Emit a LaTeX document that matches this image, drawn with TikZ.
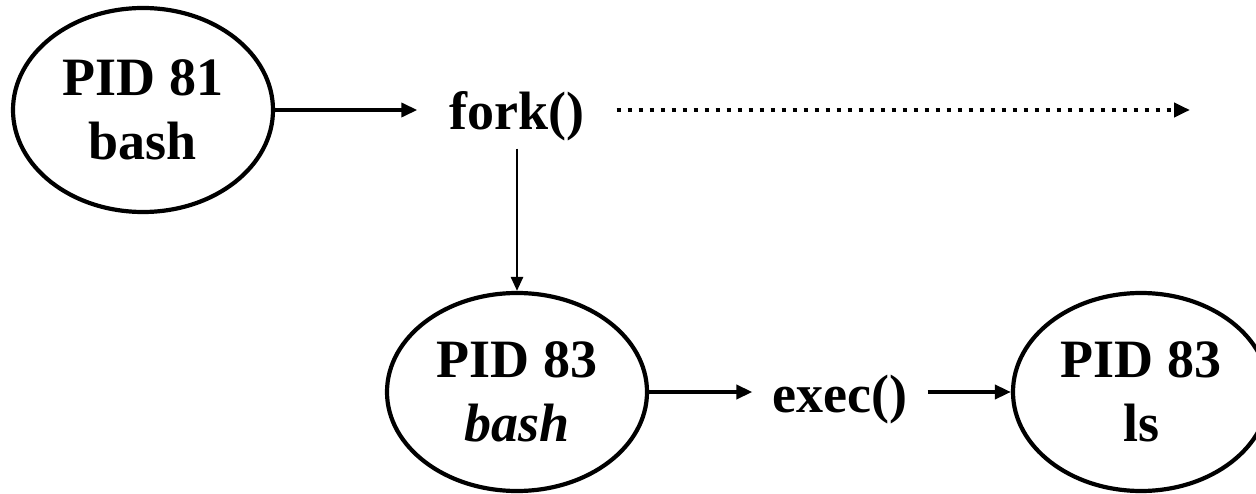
\documentclass[tikz,border=0pt]{standalone}
\usepackage{fontspec}
\setmainfont{Liberation Serif}
\usetikzlibrary{arrows.meta,shapes.geometric}
\begin{document}
\begin{tikzpicture}[x=1pt,y=-1pt,
  proc/.style={draw,ellipse,line width=4.2pt,inner sep=0pt,align=center,
    font=\fontsize{54}{64}\selectfont\bfseries},
  lbl/.style={anchor=base,inner ysep=7pt,font=\fontsize{54}{64}\selectfont\bfseries},
  conn/.style={line width=3.6pt,-{Triangle[length=16pt,width=14pt]}},
  thin conn/.style={line width=2.6pt,-{Triangle[length=14pt,width=12pt]}},
  dots/.style={line width=4.2pt,dash pattern=on 4pt off 7pt,-{Triangle[length=16pt,width=14pt]}}]
\useasboundingbox (0,0) rectangle (1256,494);
\node[proc,minimum width=260pt,minimum height=204pt] (e1) at (143,110) {PID 81\\bash};
\node[proc,minimum width=260pt,minimum height=198pt] (e2) at (517,392) {PID 83\\\textit{bash}};
\node[proc,minimum width=256pt,minimum height=198pt] (e3) at (1141,392) {PID 83\\ls};
\node[lbl,inner xsep=32pt] (fork) at (517,130) {fork()};
\node[lbl,inner xsep=20pt] (exec) at (840,412) {exec()};
\coordinate (far) at (1190,110);
\draw[conn] (e1.east) -- (e1.east -| fork.west);
\draw[dots] (e1.east -| fork.east) -- (far);
\draw[thin conn] (fork.south) -- (e2.north);
\draw[conn] (e2.east) -- (e2.east -| exec.west);
\draw[conn] (e2.east -| exec.east) -- (e3.west);
\end{tikzpicture}
\end{document}
